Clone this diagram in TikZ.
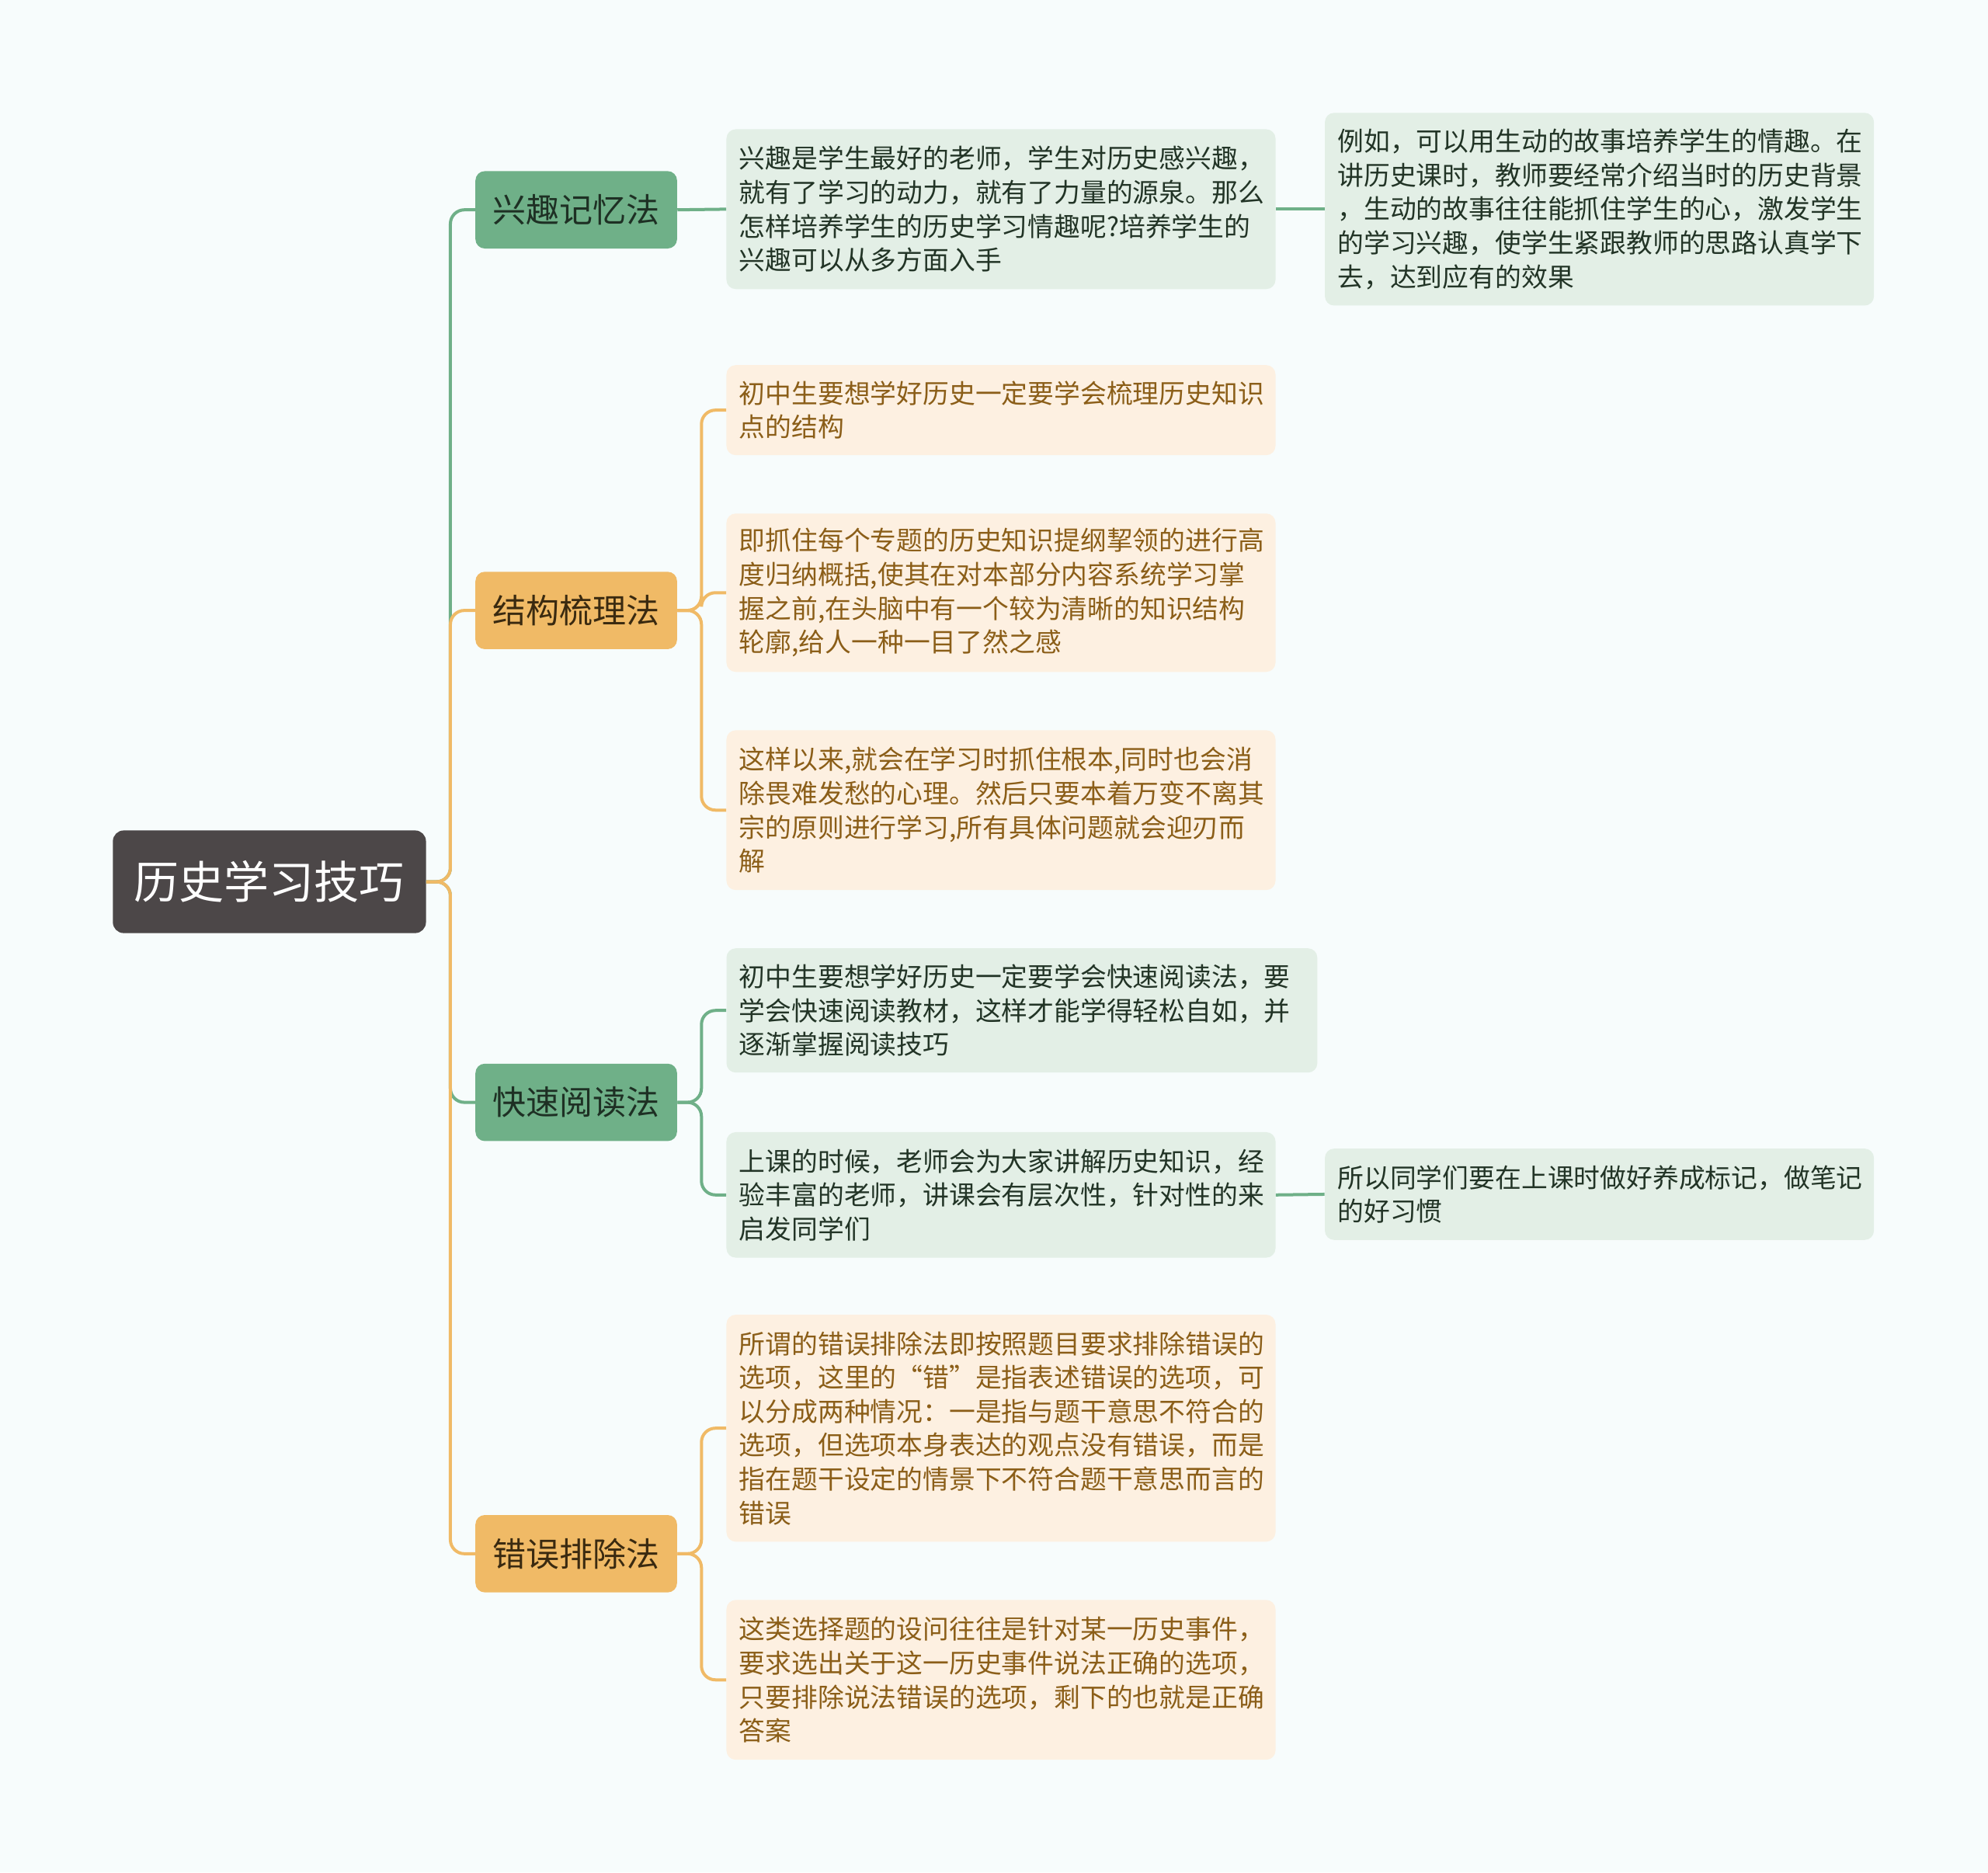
\documentclass[tikz,border=0pt]{standalone}
\usepackage{fontspec}
\setmainfont{Noto Sans CJK SC}
\definecolor{bgc}{RGB}{247,252,252}
\definecolor{rootc}{RGB}{76,71,72}
\definecolor{gmid}{RGB}{111,176,136}
\definecolor{omid}{RGB}{240,186,102}
\definecolor{glight}{RGB}{227,239,230}
\definecolor{olight}{RGB}{253,240,225}
\definecolor{gtext}{RGB}{34,52,38}
\definecolor{otext}{RGB}{139,94,24}
\definecolor{l1gtext}{RGB}{30,48,36}
\definecolor{l1otext}{RGB}{58,42,16}
\tikzset{
  x=0.8163pt, y=-0.8163pt,
  rootbox/.style={fill=rootc, rounded corners=7pt, inner sep=0pt, text=white,
    minimum width=201.6pt, minimum height=66.1pt,
    font=\fontsize{29}{34}\selectfont},
  lonebox/.style={rounded corners=6pt, inner sep=0pt, minimum width=129.8pt,
    minimum height=49.8pt, font=\fontsize{21.5}{26}\selectfont},
  lgbox/.style={lonebox, fill=gmid, text=l1gtext},
  lobox/.style={lonebox, fill=omid, text=l1otext},
  ltwobox/.style={rounded corners=6pt, inner ysep=0pt, inner xsep=8.2pt, align=left,
    minimum width=353.5pt, text width=337pt,
    font=\fontsize{16.9}{21.8}\selectfont},
  gbox/.style={ltwobox, fill=glight, text=gtext},
  obox/.style={ltwobox, fill=olight, text=otext},
  wide/.style={minimum width=380.4pt, text width=364pt},
  glink/.style={draw=gmid, line width=2pt, rounded corners=9pt},
  olink/.style={draw=omid, line width=2pt, rounded corners=9pt},
}
\begin{document}
\begin{tikzpicture}
\fill[bgc] (0,0) rectangle (1568,1477);
\useasboundingbox (0,0) rectangle (1568,1477);

\node[rootbox] (root) at (212.5,695.5) {历史学习技巧};

\node[lgbox] (xq) at (454.5,165.5) {兴趣记忆法};
\node[lobox] (jg) at (454.5,481.5) {结构梳理法};
\node[lgbox] (ks) at (454.5,869.5) {快速阅读法};
\node[lobox] (cw) at (454.5,1225.5) {错误排除法};

\node[gbox, minimum height=102.9pt] (a1) at (789.5,165) {兴趣是学生最好的老师，学生对历史感兴趣，\\就有了学习的动力，就有了力量的源泉。那么\\怎样培养学生的历史学习情趣呢?培养学生的\\兴趣可以从多方面入手};
\node[gbox, minimum height=124.1pt] (a2) at (1261.5,165) {例如，可以用生动的故事培养学生的情趣。在\\讲历史课时，教师要经常介绍当时的历史背景\\，生动的故事往往能抓住学生的心，激发学生\\的学习兴趣，使学生紧跟教师的思路认真学下\\去，达到应有的效果};

\node[obox, minimum height=58pt] (b1) at (789.5,323.5) {初中生要想学好历史一定要学会梳理历史知识\\点的结构};
\node[obox, minimum height=102pt] (b2) at (789.5,467.5) {即抓住每个专题的历史知识提纲挈领的进行高\\度归纳概括,使其在对本部分内容系统学习掌\\握之前,在头脑中有一个较为清晰的知识结构\\轮廓,给人一种一目了然之感};
\node[obox, minimum height=102.9pt] (b3) at (789.5,639) {这样以来,就会在学习时抓住根本,同时也会消\\除畏难发愁的心理。然后只要本着万变不离其\\宗的原则进行学习,所有具体问题就会迎刃而\\解};

\node[gbox, wide, minimum height=80pt] (c1) at (806,797) {初中生要想学好历史一定要学会快速阅读法，要\\学会快速阅读教材，这样才能学得轻松自如，并\\逐渐掌握阅读技巧};
\node[gbox, minimum height=80.8pt] (c2) at (789.5,942.5) {上课的时候，老师会为大家讲解历史知识，经\\验丰富的老师，讲课会有层次性，针对性的来\\启发同学们};
\node[gbox, minimum height=58.8pt] (c3) at (1261.5,942) {所以同学们要在上课时做好养成标记，做笔记\\的好习惯};

\node[obox, minimum height=146.1pt] (d1) at (789.5,1126.5) {所谓的错误排除法即按照题目要求排除错误的\\选项，这里的“错”是指表述错误的选项，可\\以分成两种情况：一是指与题干意思不符合的\\选项，但选项本身表达的观点没有错误，而是\\指在题干设定的情景下不符合题干意思而言的\\错误};
\node[obox, minimum height=102.9pt] (d2) at (789.5,1325) {这类选择题的设问往往是针对某一历史事件，\\要求选出关于这一历史事件说法正确的选项，\\只要排除说法错误的选项，剩下的也就是正确\\答案};

% trunk connectors
\draw[glink] (root.east) -- ++(19,0) |- (xq.west);
\draw[glink] (root.east) -- ++(19,0) |- (ks.west);
\draw[olink] (root.east) -- ++(19,0) |- (jg.west);
\draw[olink] (root.east) -- ++(19,0) |- (cw.west);

% level 1 to level 2
\draw[glink] (xq.east) -- (a1.west);
\draw[glink] (a1.east) -- (a2.west);
\draw[olink] (jg.east) -- ++(19,0) |- (b1.west);
\draw[olink] (jg.east) -- ++(19,0) |- (b2.west);
\draw[olink] (jg.east) -- ++(19,0) |- (b3.west);
\draw[glink] (ks.east) -- ++(19,0) |- (c1.west);
\draw[glink] (ks.east) -- ++(19,0) |- (c2.west);
\draw[glink] (c2.east) -- (c3.west);
\draw[olink] (cw.east) -- ++(19,0) |- (d1.west);
\draw[olink] (cw.east) -- ++(19,0) |- (d2.west);
\end{tikzpicture}
\end{document}
